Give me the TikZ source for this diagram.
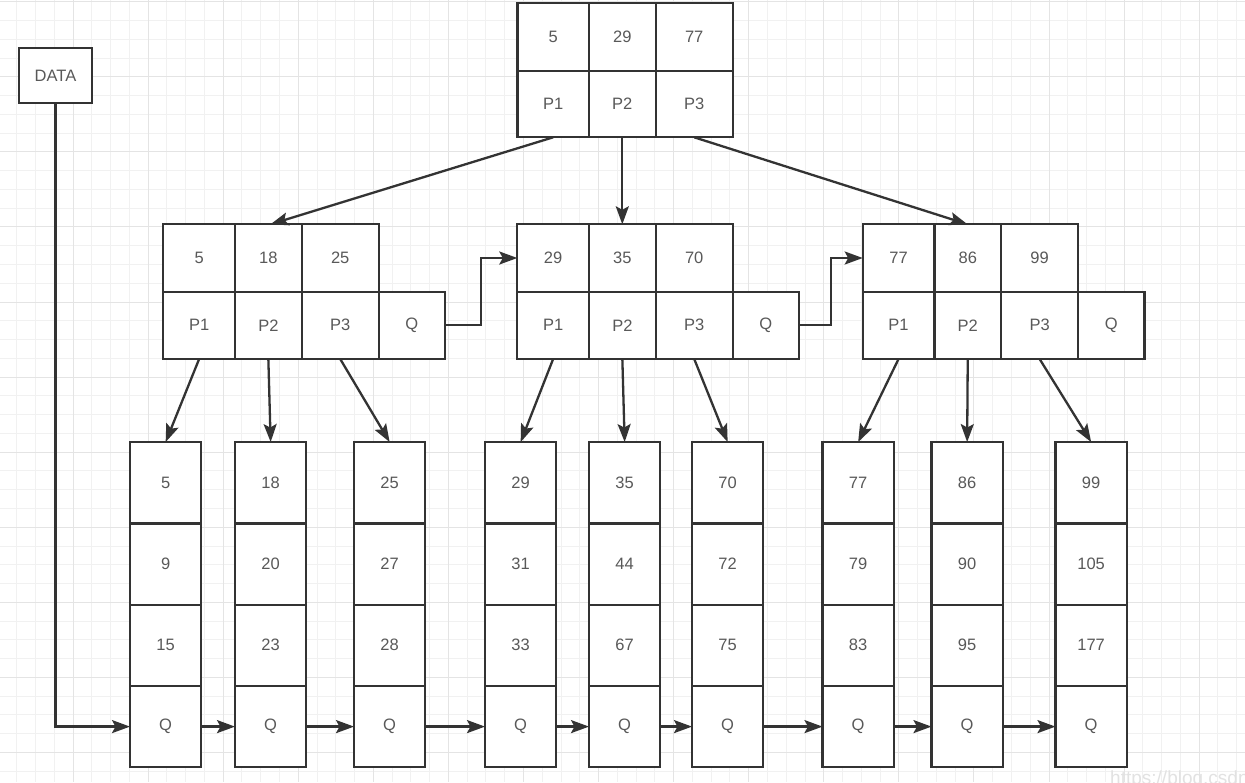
\documentclass[tikz,border=0pt]{standalone}
\usepackage{fontspec}
\setmainfont{Liberation Sans}
\usetikzlibrary{arrows.meta}
\definecolor{ln}{HTML}{333333}
\definecolor{tx}{HTML}{595959}
\definecolor{gmin}{HTML}{F1F1F1}
\definecolor{gmaj}{HTML}{E4E4E4}
\definecolor{wmk}{HTML}{E2E2E2}
\tikzset{
  cell/.style 2 args={draw=ln, line width=2.3pt, fill=white, inner sep=0pt, outer sep=0pt,
    text=tx, font=\fontsize{16.5}{18}\selectfont, minimum width=#1pt, minimum height=#2pt},
  arr/.style={draw=ln, line width=2.3pt, -{Stealth[length=18pt,width=13pt,inset=3.5pt]}},
  gridmin/.style={draw=gmin, line width=1pt},
  gridmaj/.style={draw=gmaj, line width=1pt}
}
% internal node: name prefix, left x, three keys
\newcommand\inode[5]{%
  \node[cell={71.7}{67.4}] (#1k1) at ({#2+35.85},258) {#3};
  \node[cell={66.7}{67.4}] (#1k2) at ({#2+105.05},258) {#4};
  \node[cell={77}{67.4}]   (#1k3) at ({#2+176.9},258) {#5};
  \node[cell={71.7}{67.3}] (#1p1) at ({#2+35.85},325.3) {P1};
  \node[cell={66.7}{67.3}] (#1p2) at ({#2+105.05},325.3) {P2};
  \node[cell={77}{67.3}]   (#1p3) at ({#2+176.9},325.3) {P3};
  \node[cell={66.4}{67.3}] (#1q)  at ({#2+248.6},325.3) {Q};
}
% leaf node: name prefix, left x, three keys
\newcommand\lnode[5]{%
  \node[cell={71.3}{81.3}] (#1a) at ({#2+35.65},482.7) {#3};
  \node[cell={71.3}{81.3}] (#1b) at ({#2+35.65},564.0) {#4};
  \node[cell={71.3}{81.3}] (#1c) at ({#2+35.65},645.3) {#5};
  \node[cell={71.3}{81.3}] (#1q) at ({#2+35.65},726.6) {Q};
}
\begin{document}
\begin{tikzpicture}[x=1pt,y=-1pt]
\useasboundingbox (0,0) rectangle (1245,782);
\clip (0,0) rectangle (1245,782);
\fill[white] (0,0) rectangle (1245,782);
% grid
\foreach \k in {0,...,66} {\draw[gridmin] ({16.7+18.77*\k},0) -- ({16.7+18.77*\k},782);}
\foreach \k in {0,...,41} {\draw[gridmin] (0,{1.7+18.77*\k}) -- (1245,{1.7+18.77*\k});}
\foreach \k in {0,...,16} {\draw[gridmaj] ({73.0+75.08*\k},0) -- ({73.0+75.08*\k},782);}
\foreach \k in {0,...,10} {\draw[gridmaj] (0,{1.7+75.08*\k}) -- (1245,{1.7+75.08*\k});}
% watermark
\node[anchor=north west, inner sep=0pt, text=wmk, font=\fontsize{19}{21}\selectfont] (wm) at (1110,771) {https://blog.csdn.net};

% DATA
\node[cell={72.4}{55.6}] (data) at (55.5,75.5) {DATA};

% root
\node[cell={71.7}{67.4}] (tk1) at (553.2,37) {5};
\node[cell={66.7}{67.4}] (tk2) at (622.3,37) {29};
\node[cell={77}{67.4}]   (tk3) at (694.2,37) {77};
\node[cell={71.7}{66.6}] (tp1) at (553.2,104) {P1};
\node[cell={66.7}{66.6}] (tp2) at (622.3,104) {P2};
\node[cell={77}{66.6}]   (tp3) at (694.2,104) {P3};

% internal nodes
\inode{l}{163.3}{5}{18}{25}
\inode{m}{517.3}{29}{35}{70}
\inode{r}{862.7}{77}{86}{99}
\coordinate (ltop) at (270.5,224.3);
\coordinate (rtop) at (967.5,224.3);

% leaves
\lnode{a}{130}{5}{9}{15}
\lnode{b}{235}{18}{20}{23}
\lnode{c}{354}{25}{27}{28}
\lnode{d}{485}{29}{31}{33}
\lnode{e}{589}{35}{44}{67}
\lnode{f}{692}{70}{72}{75}
\lnode{g}{822.5}{77}{79}{83}
\lnode{h}{931.5}{86}{90}{95}
\lnode{i}{1055.5}{99}{105}{177}

% root to internal
\draw[arr] (tp1.south) -- (ltop);
\draw[arr] (tp2.south) -- (tp2.south |- mk2.north);
\draw[arr] (tp3.south) -- (rtop);

% internal sibling links
\draw[arr] (lq.east) -- ++(36,0) |- (mk1.west);
\draw[arr] (mq.east) -- ++(32,0) |- (rk1.west);

% internal to leaves
\draw[arr] (lp1.south) -- (aa.north);
\draw[arr] (lp2.south) -- (ba.north);
\draw[arr] (lp3.south) -- (ca.north);
\draw[arr] (mp1.south) -- (da.north);
\draw[arr] (mp2.south) -- (ea.north);
\draw[arr] (mp3.south) -- (fa.north);
\draw[arr] (rp1.south) -- (ga.north);
\draw[arr] (rp2.south) -- (ha.north);
\draw[arr] (rp3.south) -- (ia.north);

% leaf chain
\draw[arr] (data.south) |- (aq.west);
\draw[arr] (aq.east) -- (bq.west);
\draw[arr] (bq.east) -- (cq.west);
\draw[arr] (cq.east) -- (dq.west);
\draw[arr] (dq.east) -- (eq.west);
\draw[arr] (eq.east) -- (fq.west);
\draw[arr] (fq.east) -- (gq.west);
\draw[arr] (gq.east) -- (hq.west);
\draw[arr] (hq.east) -- (iq.west);
\end{tikzpicture}
\end{document}
